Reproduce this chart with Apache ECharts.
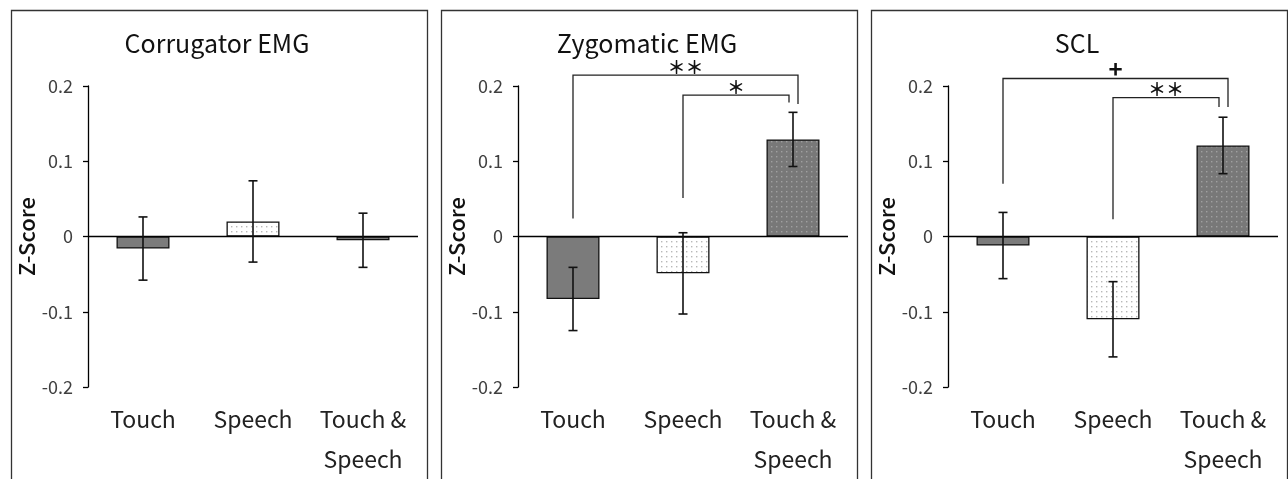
<!DOCTYPE html>
<html>
<head>
<meta charset="utf-8">
<script src="https://cdn.jsdelivr.net/npm/echarts@6/dist/echarts.min.js"></script>
<style>
  html, body { margin: 0; padding: 0; background: #fff; }
  #chart { width: 1288px; height: 479px; }
</style>
</head>
<body>
<div id="chart"></div>
<script>
const categories = ['Touch', 'Speech', 'Touch &\nSpeech']
const titles = ['Corrugator EMG', 'Zygomatic EMG', 'SCL']
const yTicks = [-0.2, 0.2, 0.1]

// means and standard errors per panel
const corrugatorMean = [-0.016, 0.020, -0.005]
const corrugatorErr = [0.042, 0.054, 0.036]
const zygomaticMean = [-0.083, -0.049, 0.129]
const zygomaticErr = [0.042, 0.054, 0.036]
const sclMean = [-0.012, -0.110, 0.121]
const sclErr = [0.044, 0.050, 0.0375]

// significance brackets: [fromCat, toCat, barY, leftEndY, rightEndY, rightLegShiftPx, mark]
const corrugatorSig = []
const zygomaticSig = [
  [0, 2, 0.2145, 0.024, 0.176, 5, '＊＊'],
  [1, 2, 0.188, 0.051, 0.178, -4, '＊'],
]
const sclSig = [
  [0, 2, 0.210, 0.070, 0.172, 5, '+'],
  [1, 2, 0.1846, 0.023, 0.172, -4, '＊＊'],
]

const panels = [
  { mean: corrugatorMean, err: corrugatorErr, sig: corrugatorSig },
  { mean: zygomaticMean, err: zygomaticErr, sig: zygomaticSig },
  { mean: sclMean, err: sclErr, sig: sclSig },
]

const frameLeft = [9, 439, 869]
const frameWidth = 416
const gridLeft = [88, 518, 948]

function dotPattern(bg, dot, step) {
  const c = document.createElement('canvas')
  c.width = step
  c.height = step
  const ctx = c.getContext('2d')
  ctx.fillStyle = bg
  ctx.fillRect(0, 0, step, step)
  ctx.fillStyle = dot
  ctx.fillRect(1, 1, 1.4, 1.4)
  return { image: c, repeat: 'repeat' }
}

const touchFill = '#7b7b7b'
const speechFill = dotPattern('#ffffff', '#b8b8b8', 5)
const bothFill = dotPattern('#787878', '#a0a0a0', 5)
const barFills = [touchFill, speechFill, bothFill]

const FONT = "'Noto Sans CJK JP', 'Noto Sans', sans-serif"

const chart = echarts.init(document.getElementById('chart'))

const grid = []
const xAxis = []
const yAxis = []
const series = []
const graphic = []

panels.forEach((p, i) => {
  grid.push({ left: gridLeft[i], width: 330, top: 86, height: 304 })
  xAxis.push({
    type: 'category',
    gridIndex: i,
    data: categories,
    position: 'bottom',
    axisLine: { show: false, onZero: false },
    axisTick: { show: false },
    axisLabel: {
      color: '#222',
      fontSize: 23,
      fontFamily: FONT,
      lineHeight: 40,
      margin: 12,
      interval: 0,
    },
  })
  yAxis.push({
    type: 'value',
    gridIndex: i,
    min: yTicks[0],
    max: yTicks[1],
    interval: yTicks[2],
    name: 'Z-Score',
    nameLocation: 'middle',
    nameGap: 50,
    nameTextStyle: { color: '#111', fontSize: 22, fontWeight: 500, fontFamily: FONT },
    axisLine: { show: true, lineStyle: { color: '#000', width: 1.3 } },
    axisTick: { show: true, length: 5, lineStyle: { color: '#000', width: 1.3 } },
    axisLabel: {
      color: '#404040',
      fontSize: 18,
      fontFamily: FONT,
      margin: 15,
      formatter: (v) => (Math.abs(v) < 1e-9 ? '0' : String(Math.round(v * 10) / 10)),
    },
    splitLine: { show: false },
  })

  series.push({
    type: 'bar',
    xAxisIndex: i,
    yAxisIndex: i,
    barWidth: 53,
    data: p.mean.map((v, k) => ({
      value: v,
      itemStyle: { color: barFills[k], borderColor: '#111', borderWidth: 1.3 },
    })),
    markLine: {
      silent: true,
      symbol: 'none',
      label: { show: false },
      lineStyle: { color: '#000', width: 1.3, type: 'solid' },
      data: [{ yAxis: 0 }],
    },
    z: 2,
  })

  // error bars
  series.push({
    type: 'custom',
    xAxisIndex: i,
    yAxisIndex: i,
    data: p.mean.map((v, k) => [k, v - p.err[k], v + p.err[k]]),
    renderItem: (params, api) => {
      const lo = api.coord([api.value(0), api.value(1)])
      const hi = api.coord([api.value(0), api.value(2)])
      const cap = 4.5
      const style = { stroke: '#111', lineWidth: 1.6 }
      return {
        type: 'group',
        children: [
          { type: 'line', shape: { x1: lo[0], y1: lo[1], x2: hi[0], y2: hi[1] }, style },
          { type: 'line', shape: { x1: hi[0] - cap, y1: hi[1], x2: hi[0] + cap, y2: hi[1] }, style },
          { type: 'line', shape: { x1: lo[0] - cap, y1: lo[1], x2: lo[0] + cap, y2: lo[1] }, style },
        ],
      }
    },
    z: 5,
  })

  // significance brackets
  if (p.sig.length) {
    series.push({
      type: 'custom',
      xAxisIndex: i,
      yAxisIndex: i,
      clip: false,
      data: p.sig,
      renderItem: (params, api) => {
        const d = p.sig[params.dataIndex]
        const a = api.coord([d[0], d[3]])
        const top = api.coord([d[0], d[2]])
        const b = api.coord([d[1], d[4]])
        const bx = b[0] + d[5]
        const style = { stroke: '#222', lineWidth: 1.3, fill: null }
        const isPlus = d[6] === '+'
        return {
          type: 'group',
          children: [
            {
              type: 'polyline',
              shape: { points: [[a[0], a[1]], [a[0], top[1]], [bx, top[1]], [bx, b[1]]] },
              style,
            },
            {
              type: 'text',
              x: (a[0] + bx) / 2,
              y: top[1] - (isPlus ? 10 : 8),
              style: {
                text: d[6],
                fill: '#111',
                font: isPlus ? `bold 24px ${FONT}` : `bold 18px ${FONT}`,
                align: 'center',
                verticalAlign: 'middle',
              },
            },
          ],
        }
      },
      z: 6,
    })
  }

  graphic.push({
    type: 'rect',
    left: frameLeft[i],
    top: 8,
    shape: { width: frameWidth, height: 500 },
    style: { fill: 'none', stroke: '#333', lineWidth: 1.3 },
    silent: true,
    z: 0,
  })
  graphic.push({
    type: 'text',
    x: frameLeft[i] + frameWidth / 2,
    y: 43,
    style: {
      text: titles[i],
      fill: '#111',
      font: `25px ${FONT}`,
      align: 'center',
      verticalAlign: 'middle',
    },
  })
})

chart.setOption({
  backgroundColor: '#fff',
  animation: false,
  grid,
  xAxis,
  yAxis,
  series,
  graphic,
})
</script>
</body>
</html>
